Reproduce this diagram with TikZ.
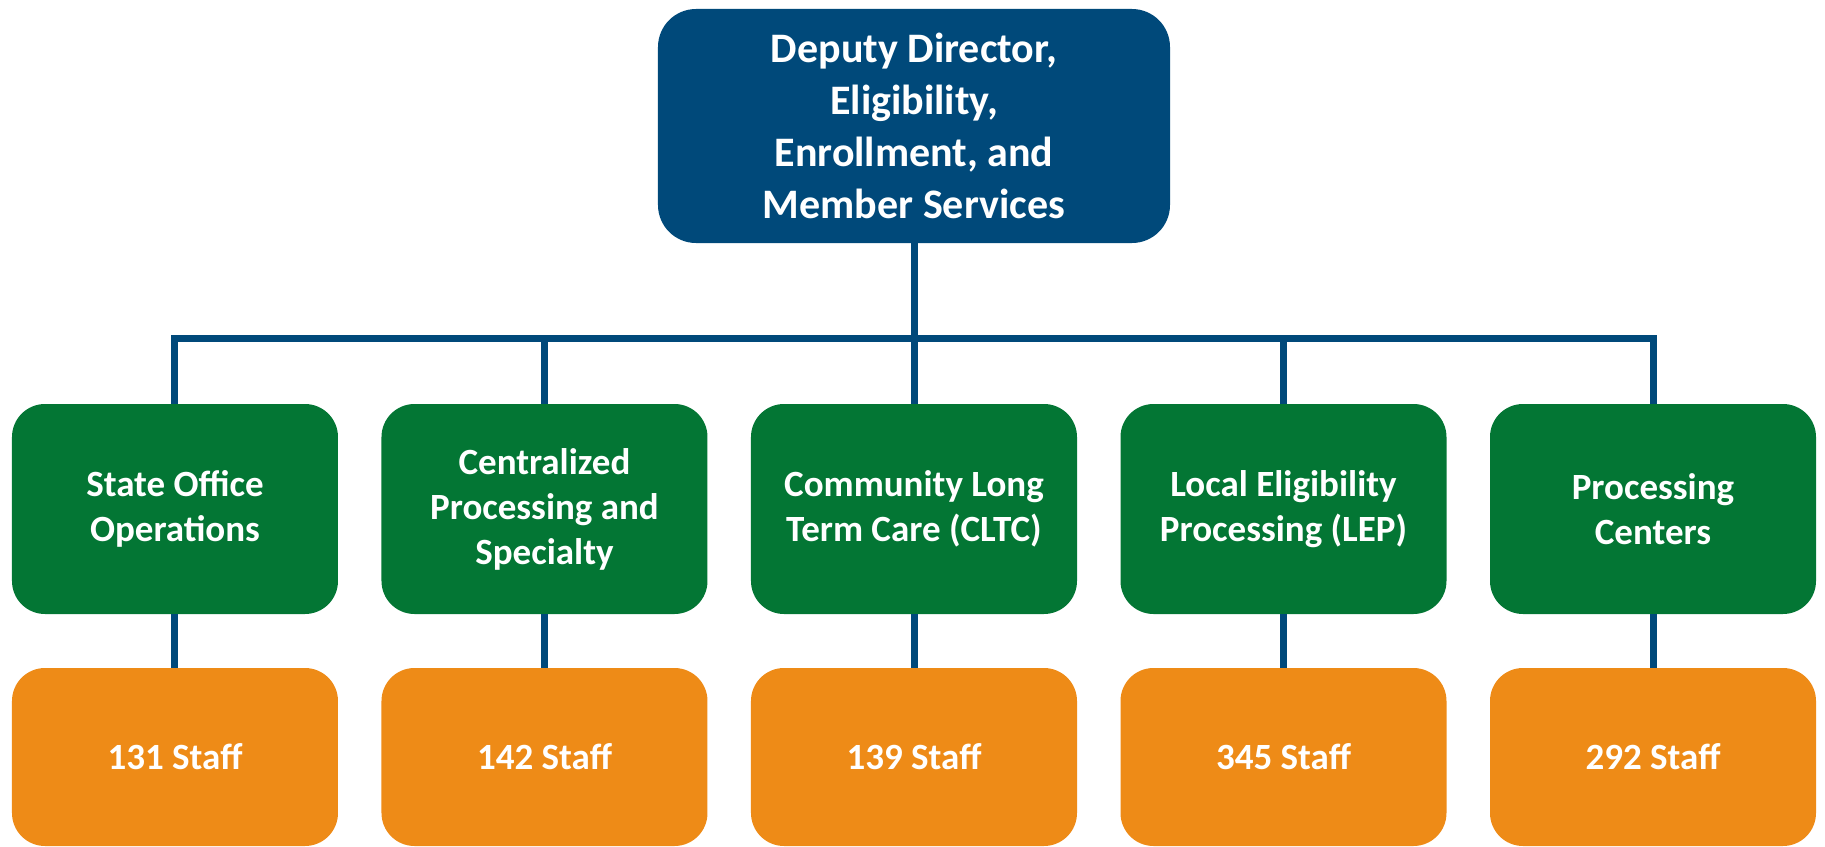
\documentclass[tikz,border=0pt]{standalone}
\usepackage{fontspec}
\setmainfont{Carlito}
\definecolor{ddblue}{HTML}{00497A}
\definecolor{unitgreen}{HTML}{037634}
\definecolor{staffOrange}{HTML}{EE8B17}
\begin{document}
\begin{tikzpicture}[every node/.style = {shape=rectangle, rounded corners=16.5pt, text=white, align=center, inner sep=0pt, font=\bfseries\fontsize{18.5}{22.5}\selectfont},
  edge from parent/.style = {draw=ddblue, line width=3.5pt}]
	\tikzset{ director/.style = {fill=ddblue, rounded corners=19pt, minimum width=256pt, minimum height=117pt, font=\bfseries\fontsize{21}{26}\selectfont},
		unit/.style = {fill=unitgreen, minimum width=163pt, minimum height=105pt},
		staff/.style = {fill=staffOrange, minimum width=163pt, minimum height=89pt} }
	\tikzstyle{level 1}=[sibling distance=184.75pt, level distance=191.5pt, edge from parent path={(\tikzparentnode.south) -- ++(0,-47.5pt) -| (\tikzchildnode.north)}]
	\tikzstyle{level 2}=[level distance=124pt, edge from parent path={(\tikzparentnode.south) -- (\tikzchildnode.north)}]
	\useasboundingbox (-457pt,-360pt) rectangle (455.5pt,63pt);
	\node [director] (dd) {Deputy Director,\\Eligibility,\\Enrollment, and\\Member Services}
		child { node [unit] (soo) {State Office\\Operations}
			child { node [staff] (soostaff) {131 Staff} }
		}
		child { node [unit] (cps) {Centralized\\Processing and\\Specialty}
			child { node [staff] (cpsstaff) {142 Staff} }
		}
		child { node [unit] (cltc) {Community Long\\Term Care (CLTC)}
			child { node [staff] (cltcstaff) {139 Staff} }
		}
		child { node [unit] (lep) {Local Eligibility\\Processing (LEP)}
			child { node [staff] (lepstaff) {345 Staff} }
		}
		child { node [unit] (pc) {Processing\\Centers}
			child { node [staff] (pcstaff) {292 Staff} }
		};
\end{tikzpicture}
\end{document}
